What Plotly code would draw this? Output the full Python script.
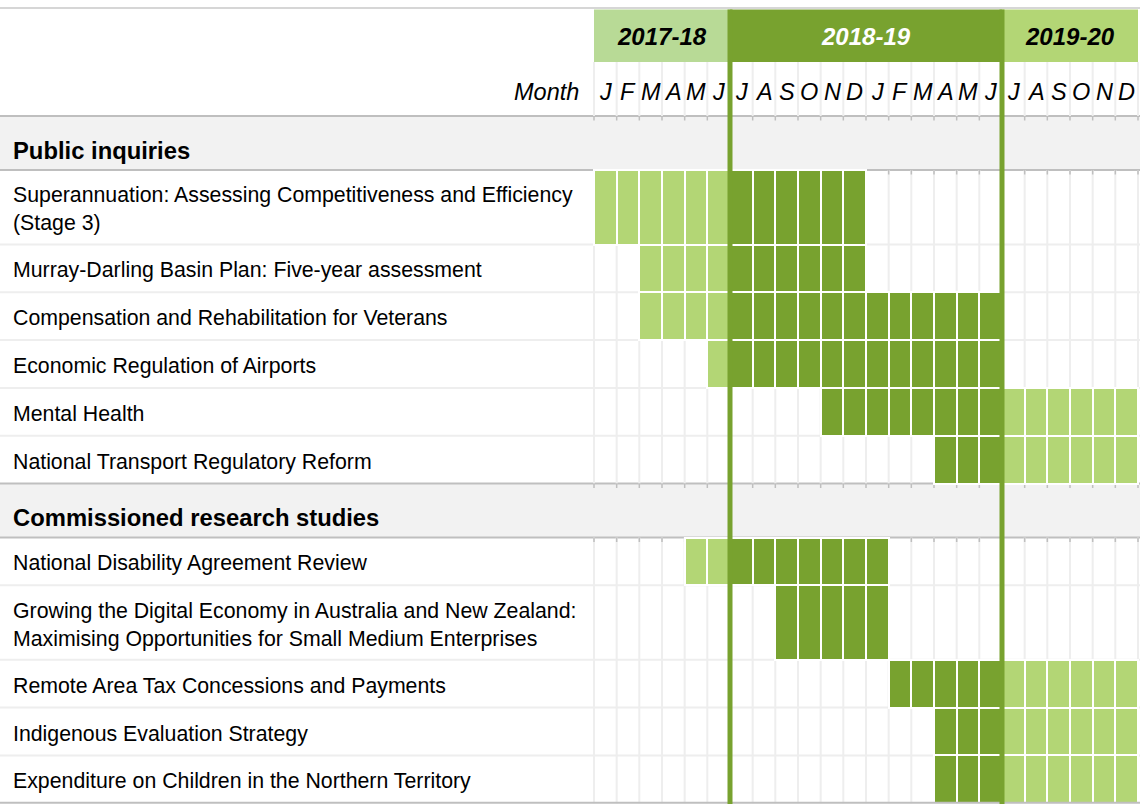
import plotly.graph_objects as go

# ---------------- data ----------------
fiscal_years = ["2017-18", "2018-19", "2019-20"]
fy_month_labels = [
    ["J", "F", "M", "A", "M", "J"],
    ["J", "A", "S", "O", "N", "D", "J", "F", "M", "A", "M", "J"],
    ["J", "A", "S", "O", "N", "D"],
]
first_month = "2018-01"  # first month column shown

section_titles = ["Public inquiries", "Commissioned research studies"]

public_inquiries = [
    "Superannuation: Assessing Competitiveness and Efficiency<br>(Stage 3)",
    "Murray-Darling Basin Plan: Five-year assessment",
    "Compensation and Rehabilitation for Veterans",
    "Economic Regulation of Airports",
    "Mental Health",
    "National Transport Regulatory Reform",
]
public_inquiries_start = ["2018-01", "2018-03", "2018-03", "2018-06", "2018-11", "2019-04"]
public_inquiries_end = ["2018-12", "2018-12", "2019-06", "2019-06", "2019-12", "2019-12"]

research_studies = [
    "National Disability Agreement Review",
    "Growing the Digital Economy in Australia and New Zealand:<br>Maximising Opportunities for Small Medium Enterprises",
    "Remote Area Tax Concessions and Payments",
    "Indigenous Evaluation Strategy",
    "Expenditure on Children in the Northern Territory",
]
research_studies_start = ["2018-05", "2018-09", "2019-02", "2019-04", "2019-04"]
research_studies_end = ["2019-01", "2019-01", "2019-12", "2019-12", "2019-12"]

# ---------------- layout / style ----------------
FIG_W, FIG_H = 1140, 804
GRID_L, GRID_R = 594, 1138
TOP_LINE_Y = 8
YEAR_TOP, YEAR_BOT = 9.5, 62
MONTH_BOT = 116
SECTION_H, SINGLE_H, DOUBLE_H = 54, 47.8, 74.5
LABEL_X_PX = 11
MONTH_WORD_RIGHT_PX = 581

FONT = "Liberation Sans, Arial, Helvetica, sans-serif"
LIGHT = "#b3d675"
DARK = "#78a22f"
FY_BAND_COLORS = ["#b8da96", DARK, "#b3d675"]
FY_TEXT_COLORS = ["black", "white", "black"]
FY_CELL_COLORS = [LIGHT, DARK, LIGHT]
SECTION_FILL = "#f2f2f2"
DARK_LINE = "#bfbfbf"
GRID_LINE = "#eeeeee"

n_months = sum(len(m) for m in fy_month_labels)
px_per_month = (GRID_R - GRID_L) / n_months


def xpx(px):
    return (px - GRID_L) / px_per_month


def month_index(s):
    y0, m0 = map(int, first_month.split("-"))
    y, m = map(int, s.split("-"))
    return (y - y0) * 12 + (m - m0)


fy_bounds = [0]
for labels in fy_month_labels:
    fy_bounds.append(fy_bounds[-1] + len(labels))


def fy_of(m):
    for i in range(len(fiscal_years)):
        if fy_bounds[i] <= m < fy_bounds[i + 1]:
            return i
    return len(fiscal_years) - 1


# build rows
rows = []
groups = [
    (public_inquiries, public_inquiries_start, public_inquiries_end),
    (research_studies, research_studies_start, research_studies_end),
]
for title, (names, starts, ends) in zip(section_titles, groups):
    rows.append(("section", title, None, None))
    for n, s, e in zip(names, starts, ends):
        rows.append(("item", n, month_index(s), month_index(e)))

y = MONTH_BOT
row_geom = []
for kind, label, s, e in rows:
    if kind == "section":
        h = SECTION_H
    else:
        h = DOUBLE_H if "<br>" in label else SINGLE_H
    row_geom.append((y, y + h))
    y += h
BOTTOM = y

# ---------------- figure ----------------
fig = go.Figure()

# bars (cells)
bx, bbase, by, bw, bc = [], [], [], [], []
for (kind, label, s, e), (t, b) in zip(rows, row_geom):
    if kind != "item":
        continue
    for m in range(s, e + 1):
        bx.append(1)
        bbase.append(m)
        by.append((t + b) / 2)
        bw.append(b - t)
        bc.append(FY_CELL_COLORS[fy_of(m)])

fig.add_trace(go.Bar(
    orientation="h", x=bx, base=bbase, y=by, width=bw,
    marker=dict(color=bc, line=dict(color="white", width=2)),
    hoverinfo="skip", showlegend=False,
))

shapes = []
# top line
shapes.append(dict(type="line", xref="paper", yref="y", x0=0, x1=1, y0=TOP_LINE_Y, y1=TOP_LINE_Y,
                   line=dict(color="#c8c8c8", width=1.5), layer="below"))
# year bands
for i in range(len(fiscal_years)):
    shapes.append(dict(type="rect", xref="x", yref="y", x0=fy_bounds[i], x1=fy_bounds[i + 1],
                       y0=YEAR_TOP, y1=YEAR_BOT, fillcolor=FY_BAND_COLORS[i],
                       line=dict(width=0), layer="below"))


def vgrid_path(y0, y1):
    return " ".join(f"M {k} {y0} L {k} {y1}" for k in range(n_months + 1))


# month row gridlines
shapes.append(dict(type="path", xref="x", yref="y", path=vgrid_path(YEAR_BOT, MONTH_BOT),
                   line=dict(color=GRID_LINE, width=2), layer="below"))
# item row gridlines and separators
for idx, ((kind, label, s, e), (t, b)) in enumerate(zip(rows, row_geom)):
    if kind == "item":
        shapes.append(dict(type="path", xref="x", yref="y", path=vgrid_path(t, b),
                           line=dict(color=GRID_LINE, width=2), layer="below"))
        if idx + 1 < len(rows) and rows[idx + 1][0] == "item":
            shapes.append(dict(type="line", xref="paper", yref="y", x0=0, x1=1, y0=b, y1=b,
                               line=dict(color=GRID_LINE, width=2), layer="below"))
# section bands
dark_lines = []
for (kind, label, s, e), (t, b) in zip(rows, row_geom):
    if kind == "section":
        shapes.append(dict(type="rect", xref="paper", yref="y", x0=0, x1=1, y0=t, y1=b,
                           fillcolor=SECTION_FILL, line=dict(width=0), layer="below"))
        dark_lines += [t, b]
for yy in dark_lines:
    shapes.append(dict(type="line", xref="paper", yref="y", x0=0, x1=1, y0=yy, y1=yy,
                       line=dict(color=DARK_LINE, width=2), layer="below"))
    shapes.append(dict(type="path", xref="x", yref="y", path=vgrid_path(yy, yy + 4.5),
                       line=dict(color=DARK_LINE, width=1.5), layer="below"))
# bottom line
shapes.append(dict(type="line", xref="paper", yref="y", x0=0, x1=1, y0=BOTTOM - 0.5, y1=BOTTOM - 0.5,
                   line=dict(color=DARK_LINE, width=2), layer="above"))
# fiscal-year separator lines
for k in fy_bounds[1:-1]:
    shapes.append(dict(type="line", xref="x", yref="y", x0=k, x1=k, y0=YEAR_TOP, y1=FIG_H,
                       line=dict(color=DARK, width=5), layer="above"))

annotations = []
for i, fy in enumerate(fiscal_years):
    annotations.append(dict(
        x=(fy_bounds[i] + fy_bounds[i + 1]) / 2, y=(YEAR_TOP + YEAR_BOT) / 2 + 1,
        xref="x", yref="y", text=f"<b><i>{fy}</i></b>", showarrow=False,
        xanchor="center", yanchor="middle",
        font=dict(family=FONT, size=24, color=FY_TEXT_COLORS[i]),
    ))
month_letters = [m for labels in fy_month_labels for m in labels]
month_y = (YEAR_BOT + MONTH_BOT) / 2 + 3
for k, m in enumerate(month_letters):
    annotations.append(dict(
        x=k + 0.5, y=month_y, xref="x", yref="y", text=f"<i>{m}</i>", showarrow=False,
        xanchor="center", yanchor="middle", font=dict(family=FONT, size=23.5, color="black"),
    ))
annotations.append(dict(
    x=xpx(MONTH_WORD_RIGHT_PX), y=month_y, xref="x", yref="y", text="<i>Month</i>", showarrow=False,
    xanchor="right", yanchor="middle", font=dict(family=FONT, size=23.5, color="black"),
))
for (kind, label, s, e), (t, b) in zip(rows, row_geom):
    c = (t + b) / 2
    if kind == "section":
        annotations.append(dict(
            x=xpx(LABEL_X_PX), y=c + 7, xref="x", yref="y", text=f"<b>{label}</b>", showarrow=False,
            xanchor="left", yanchor="middle", font=dict(family=FONT, size=23.8, color="black"),
        ))
    else:
        annotations.append(dict(
            x=xpx(LABEL_X_PX), y=c + 2, xref="x", yref="y", text=label, showarrow=False,
            xanchor="left", yanchor="middle", align="left",
            font=dict(family=FONT, size=21.3, color="black"),
        ))

fig.update_layout(
    width=FIG_W, height=FIG_H,
    margin=dict(l=0, r=0, t=0, b=0, pad=0),
    paper_bgcolor="white", plot_bgcolor="white",
    barmode="overlay", bargap=0,
    xaxis=dict(range=[xpx(0), xpx(FIG_W)], visible=False, fixedrange=True),
    yaxis=dict(range=[FIG_H, 0], visible=False, fixedrange=True),
    shapes=shapes, annotations=annotations, showlegend=False,
)

fig.write_html("out.html", config={"displayModeBar": False},
               post_script="document.body.style.margin='0';")
